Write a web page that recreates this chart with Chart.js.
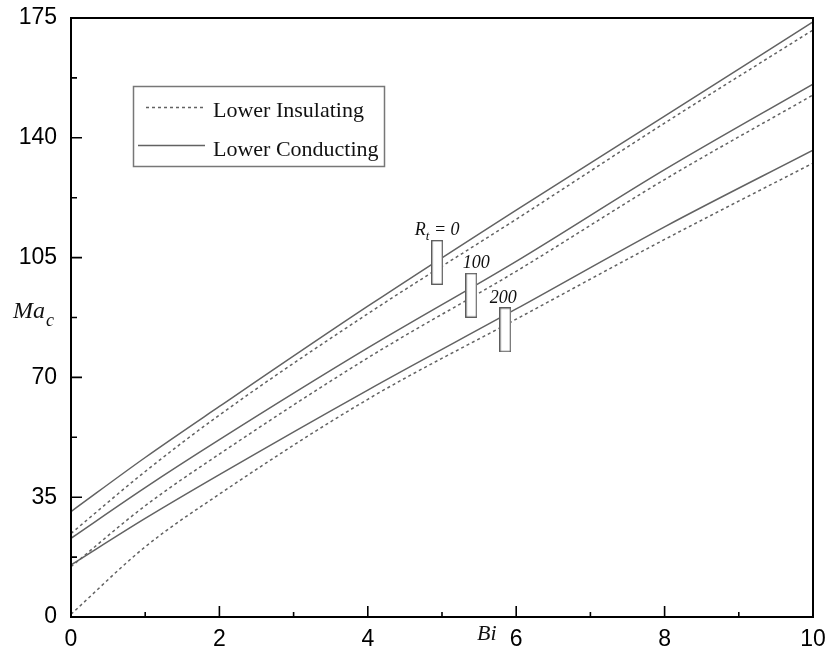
<!DOCTYPE html>
<html>
<head>
<meta charset="utf-8">
<script src="https://cdn.jsdelivr.net/npm/chart.js@4"></script>
<style>
  html, body { margin: 0; padding: 0; background: #fff; }
  #wrap { width: 831px; height: 655px; }
</style>
</head>
<body>
<div id="wrap"><canvas id="grafico" width="831" height="655"></canvas></div>
<script>
const bi = [0, 1, 2, 4, 6, 8, 10]

// lower conducting (solid) and lower insulating (dashed), Rt = 0, 100, 200
const condR0   = [30.8, 46.6, 61.5, 90.8, 118.9, 146.3, 173.9]
const insR0    = [24.4, 42.5, 59.0, 88.6, 116.2, 144.3, 171.5]
const condR100 = [23.0, 37.8, 51.8, 78.6, 103.9, 130.7, 155.7]
const insR100  = [14.7, 32.5, 47.6, 75.7, 101.0, 127.8, 152.5]
const condR200 = [15.2, 28.8, 41.6, 66.3, 90.0, 114.0, 136.4]
const insR200  = [0.8, 20.5, 35.9, 63.6, 87.0, 110.3, 132.6]

// little boxes marking each Rt pair
const markBi = [4.935, 5.395, 5.853]
const markMa = [103.6, 94.0, 83.9]
const markTxt = ["0", "100", "200"]

const legendTxt = ["Lower Insulating", "Lower Conducting"]

const gris = '#626262'
const serif = "'Liberation Serif', 'Times New Roman', serif"
const sans = "'Liberation Sans', Arial, sans-serif"

const pares = (ys) => bi.map((x, i) => ({ x: x, y: ys[i] }))

function linea(ys, dashed) {
    return {
        data: pares(ys),
        showLine: true,
        borderColor: gris,
        borderWidth: 1.5,
        borderDash: dashed ? [3, 3] : [],
        pointRadius: 0,
        cubicInterpolationMode: 'monotone',
        fill: false
    }
}

// white box with grey border used as point style
let caja = document.createElement('canvas')
caja.width = 12
caja.height = 45
let cx = caja.getContext('2d')
cx.fillStyle = '#fff'
cx.fillRect(0, 0, 12, 45)
cx.strokeStyle = '#555'
cx.lineWidth = 1.3
cx.strokeRect(0.7, 0.7, 10.6, 43.6)

const extras = {
    id: 'extras',
    afterDraw(chart) {
        const ctx = chart.ctx
        const a = chart.chartArea
        const sx = chart.scales.x
        const sy = chart.scales.y
        ctx.save()

        // frame
        ctx.strokeStyle = '#000'
        ctx.lineWidth = 2
        ctx.strokeRect(a.left, a.top, a.right - a.left, a.bottom - a.top)

        // inward ticks
        ctx.lineWidth = 1.6
        ctx.beginPath()
        for (let v = 1; v < 10; v++) {
            let px = sx.getPixelForValue(v)
            let len = v % 2 === 0 ? 11 : 5
            ctx.moveTo(px, a.bottom)
            ctx.lineTo(px, a.bottom - len)
        }
        for (let v = 17.5; v < 175; v += 17.5) {
            let py = sy.getPixelForValue(v)
            let len = Math.round(v / 17.5) % 2 === 0 ? 11 : 6
            ctx.moveTo(a.left, py)
            ctx.lineTo(a.left + len, py)
        }
        ctx.stroke()

        // legend box
        ctx.strokeStyle = '#777'
        ctx.lineWidth = 1.5
        ctx.strokeRect(133.5, 86.5, 251, 80)
        ctx.strokeStyle = gris
        ctx.lineWidth = 1.5
        ctx.setLineDash([3, 3])
        ctx.beginPath()
        ctx.moveTo(146, 107.5)
        ctx.lineTo(205, 107.5)
        ctx.stroke()
        ctx.setLineDash([])
        ctx.beginPath()
        ctx.moveTo(138, 145.5)
        ctx.lineTo(205, 145.5)
        ctx.stroke()
        ctx.fillStyle = '#111'
        ctx.font = '22px ' + serif
        ctx.textAlign = 'left'
        ctx.textBaseline = 'alphabetic'
        ctx.fillText(legendTxt[0], 213, 117)
        ctx.fillText(legendTxt[1], 213, 156)

        // Rt labels above boxes
        const meta = chart.getDatasetMeta(6)
        const dx = [0, 5, -2]
        meta.data.forEach((p, i) => {
            let tx = p.x + dx[i]
            let ty = p.y - 27
            ctx.font = 'italic 18px ' + serif
            ctx.textAlign = 'center'
            if (i === 0) {
                let w1 = ctx.measureText('R').width
                ctx.font = 'italic 13px ' + serif
                let w2 = ctx.measureText('t').width
                ctx.font = 'italic 18px ' + serif
                let w3 = ctx.measureText(' = ' + markTxt[0]).width
                let x0 = tx - (w1 + w2 + w3) / 2
                ctx.textAlign = 'left'
                ctx.fillText('R', x0, ty)
                ctx.font = 'italic 13px ' + serif
                ctx.fillText('t', x0 + w1, ty + 5)
                ctx.font = 'italic 18px ' + serif
                ctx.fillText(' = ' + markTxt[0], x0 + w1 + w2, ty)
            } else {
                ctx.fillText(markTxt[i], tx, ty)
            }
        })

        // axis titles
        ctx.textAlign = 'left'
        ctx.font = 'italic 24px ' + serif
        ctx.fillText('Ma', 13, 318)
        let wm = ctx.measureText('Ma').width
        ctx.font = 'italic 18px ' + serif
        ctx.fillText('c', 13 + wm + 1, 326)
        ctx.font = 'italic 22px ' + serif
        ctx.fillText('Bi', 477, 640)

        ctx.restore()
    }
}

let miGrafico = new Chart(document.getElementById('grafico'), {
    type: 'scatter',
    data: {
        datasets: [
            linea(condR0, false),
            linea(insR0, true),
            linea(condR100, false),
            linea(insR100, true),
            linea(condR200, false),
            linea(insR200, true),
            {
                data: markBi.map((x, i) => ({ x: x, y: markMa[i] })),
                pointStyle: caja,
                pointRadius: 6,
                showLine: false,
                order: -1
            }
        ]
    },
    options: {
        responsive: false,
        animation: false,
        layout: { padding: { left: 0, right: 18, top: 18, bottom: 0 } },
        plugins: {
            legend: { display: false },
            tooltip: { enabled: false }
        },
        scales: {
            x: {
                type: 'linear',
                min: 0,
                max: 10,
                grid: { display: false, drawTicks: false },
                border: { display: false },
                ticks: {
                    stepSize: 2,
                    padding: 9,
                    color: '#000',
                    font: { family: sans, size: 23 }
                },
                afterFit: (s) => {
                    s.height = 38
                    s.paddingLeft = 0
                    s.paddingRight = 0
                }
            },
            y: {
                min: 0,
                max: 175,
                grid: { display: false, drawTicks: false },
                border: { display: false },
                ticks: {
                    stepSize: 35,
                    padding: 14,
                    color: '#000',
                    font: { family: sans, size: 23 }
                },
                afterFit: (s) => {
                    s.width = 71
                    s.paddingTop = 0
                    s.paddingBottom = 0
                }
            }
        }
    },
    plugins: [extras]
})
</script>
</body>
</html>
